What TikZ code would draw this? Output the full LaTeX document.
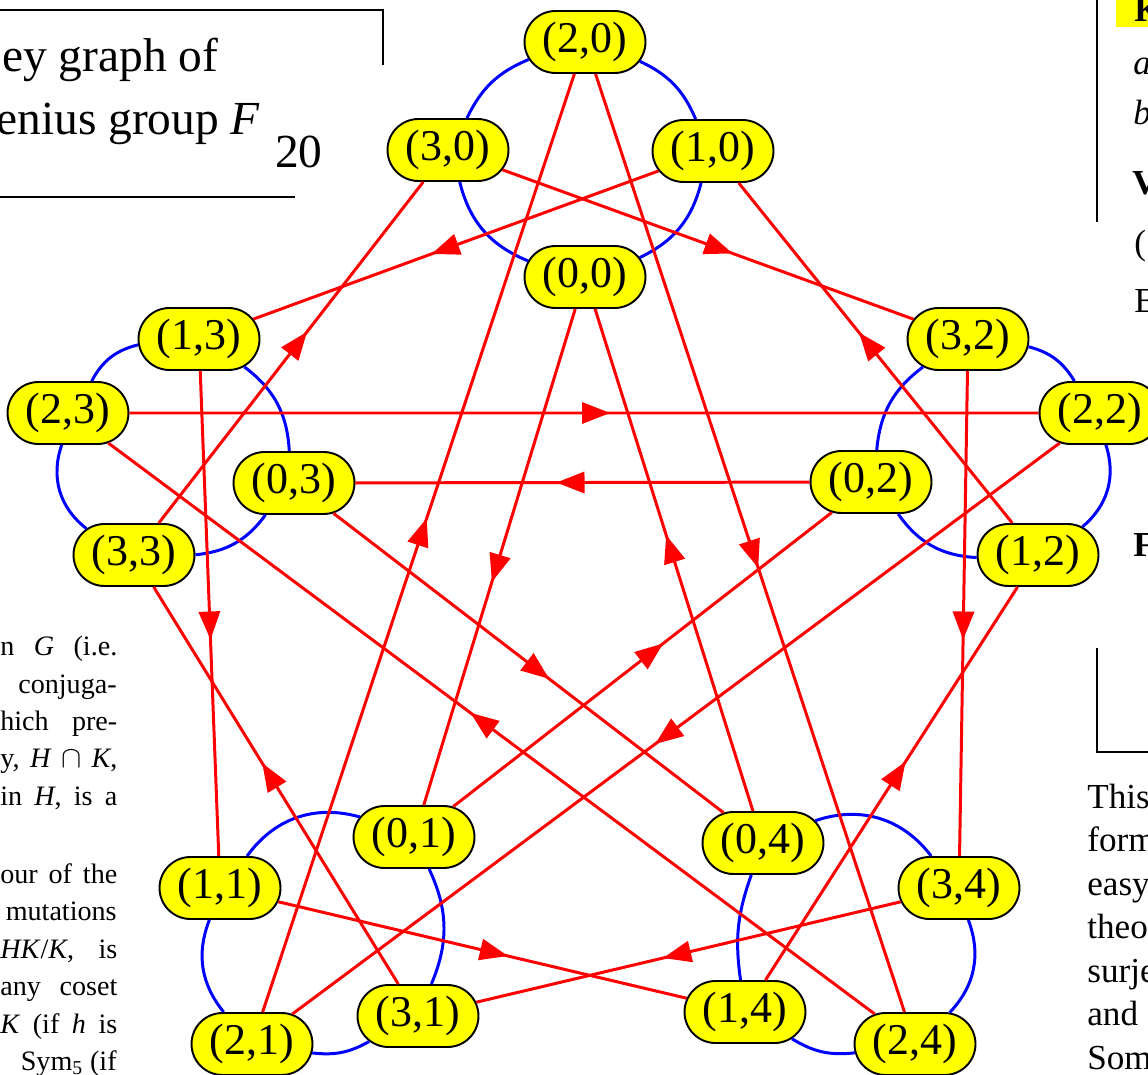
\documentclass[tikz,border=0pt]{standalone}
\usepackage{fontspec}
\setmainfont{Liberation Serif}
\usetikzlibrary{shapes.misc,decorations.markings}
\definecolor{vyellow}{RGB}{255,255,0}
\definecolor{cblue}{RGB}{0,0,255}
\definecolor{bred}{RGB}{255,0,0}
\newcommand{\jline}[1]{\makebox[2.34cm][s]{#1}}

\begin{document}
\begin{tikzpicture}[x=0.02cm,y=-0.02cm]
  \tikzstyle{vtx}=[rounded rectangle,draw=black,line width=1.1pt,fill=vyellow,minimum width=2.42cm,minimum height=1.24cm,inner sep=0pt,font=\fontsize{25}{25}\selectfont]
  \tikzstyle{acyc}=[draw=cblue,line width=1.7pt]
  \tikzstyle{bgen}=[draw=bred,line width=1.7pt,postaction={decorate},decoration={markings,mark=at position 0.5 with {\fill[bred] (-2,-11) -- (26,0) -- (-2,11) -- cycle;}}]
  \tikzstyle{pagel}=[inner sep=0pt,anchor=base west,font=\fontsize{16}{16}\selectfont]
  \tikzstyle{pager}=[inner sep=0pt,anchor=base west,font=\fontsize{20}{20}\selectfont]
  \tikzstyle{frame}=[draw=black,line width=1.1pt]
  \useasboundingbox (0,0) rectangle (1148,1074);
  \clip (0,0) rectangle (1148,1074);

  % page around the figure
  \node[inner sep=0pt,anchor=base west,font=\fontsize{27}{27}\selectfont] (ttl1) at (2,72) {ey graph of};
  \node[inner sep=0pt,anchor=base west,font=\fontsize{27}{27}\selectfont] (ttl2) at (-4,135) {enius group \textit{F}\hspace{0.3cm}\raisebox{-0.66cm}{\fontsize{27}{27}\selectfont 20}};
  \draw[frame] (0,10) -- (383,10) -- (383,65);
  \draw[frame] (0,197) -- (295,197);

  \node[pagel] (l1) at (0,655) {\jline{n \textit{G} (i.e.}};
  \node[pagel,anchor=base east] (l2) at (117,693) {conjuga-};
  \node[pagel] (l3) at (0,730) {\jline{hich pre-}};
  \node[pagel] (l4) at (0,767) {\jline{y, \textit{H} $\cap$ \textit{K},}};
  \node[pagel] (l5) at (0,805) {\jline{in \textit{H}, is a}};
  \node[pagel] (l6) at (0,883) {\jline{our of the}};
  \node[pagel,anchor=base east] (l7) at (117,920) {mutations};
  \node[pagel] (l8) at (0,958) {\jline{\textit{HK}/\textit{K}, is}};
  \node[pagel] (l9) at (0,995) {\jline{any coset}};
  \node[pagel] (l10) at (0,1033) {\jline{\textit{K} (if \textit{h} is}};
  \node[pagel,anchor=base east] (l11) at (117,1070) {Sym\textsubscript{5} (if};

  \fill[vyellow] (1116,0) rectangle (1148,27);
  \draw[frame] (1097,0) -- (1097,222);
  \node[pager] (r0) at (1134,22) {\textbf{K}};
  \node[pager] (r1) at (1133,75) {\textit{a}};
  \node[pager] (r2) at (1133,125) {\textit{b}};
  \node[pager] (r3) at (1132,195) {\textbf{V}};
  \node[pager] (r4) at (1134,255) {(};
  \node[pager] (r5) at (1134,312) {E};
  \node[pager] (r6) at (1133,556) {\textbf{F}};
  \draw[frame] (1097,648) -- (1097,752) -- (1148,752);
  \node[pager] (t1) at (1087,808) {This};
  \node[pager] (t2) at (1087,851) {form};
  \node[pager] (t3) at (1087,895) {easy};
  \node[pager] (t4) at (1087,938) {theo};
  \node[pager] (t5) at (1087,982) {surje};
  \node[pager] (t6) at (1087,1025) {and};
  \node[pager] (t7) at (1087,1069) {Som};

  % vertices (a,b)
  \node[vtx] (n20) at (585,42) {(2,0)};
  \node[vtx] (n30) at (448,150) {(3,0)};
  \node[vtx] (n10) at (713,151) {(1,0)};
  \node[vtx] (n00) at (585,277) {(0,0)};
  \node[vtx] (n13) at (199,339) {(1,3)};
  \node[vtx] (n23) at (68,413) {(2,3)};
  \node[vtx] (n03) at (294,483) {(0,3)};
  \node[vtx] (n33) at (134,555) {(3,3)};
  \node[vtx] (n32) at (968,339) {(3,2)};
  \node[vtx] (n22) at (1100,413) {(2,2)};
  \node[vtx] (n02) at (871,482) {(0,2)};
  \node[vtx] (n12) at (1038,555) {(1,2)};
  \node[vtx] (n01) at (414,837) {(0,1)};
  \node[vtx] (n11) at (220,888) {(1,1)};
  \node[vtx] (n31) at (418,1016) {(3,1)};
  \node[vtx] (n21) at (252,1044) {(2,1)};
  \node[vtx] (n04) at (763,843) {(0,4)};
  \node[vtx] (n34) at (959,888) {(3,4)};
  \node[vtx] (n14) at (745,1012) {(1,4)};
  \node[vtx] (n24) at (915,1044) {(2,4)};

  % blue cycles
  \draw[acyc] (n20) to[bend left=21] (n10);
  \draw[acyc] (n10) to[bend left=25] (n00);
  \draw[acyc] (n00) to[bend left=27] (n30);
  \draw[acyc] (n30) to[bend left=21] (n20);
  \draw[acyc] (n13) to[bend left=25] (n03);
  \draw[acyc] (n03) to[bend left=24] (n33);
  \draw[acyc] (n33) to[bend left=36] (n23);
  \draw[acyc] (n23) to[bend left=24] (n13);
  \draw[acyc] (n32) to[bend left=22] (n22);
  \draw[acyc] (n22) to[bend left=34] (n12);
  \draw[acyc] (n12) to[bend left=26] (n02);
  \draw[acyc] (n02) to[bend left=24] (n32);
  \draw[acyc] (n01) to[bend left=24] (n31);
  \draw[acyc] (n31) to[bend left=18] (n21);
  \draw[acyc] (n21) to[bend left=30] (n11);
  \draw[acyc] (n11) to[bend left=35] (n01);
  \draw[acyc] (n04) to[bend left=36] (n34);
  \draw[acyc] (n34) to[bend left=32] (n24);
  \draw[acyc] (n24) to[bend left=19] (n14);
  \draw[acyc] (n14) to[bend left=14] (n04);

  % red edges
  \draw[bgen] (n00) -- (n01);
  \draw[bgen] (n01) -- (n02);
  \draw[bgen] (n02) -- (n03);
  \draw[bgen] (n03) -- (n04);
  \draw[bgen] (n04) -- (n00);
  \draw[bgen] (n10) -- (n13);
  \draw[bgen] (n13) -- (n11);
  \draw[bgen] (n11) -- (n14);
  \draw[bgen] (n14) -- (n12);
  \draw[bgen] (n12) -- (n10);
  \draw[bgen] (n20) -- (n24);
  \draw[bgen] (n24) -- (n23);
  \draw[bgen] (n23) -- (n22);
  \draw[bgen] (n22) -- (n21);
  \draw[bgen] (n21) -- (n20);
  \draw[bgen] (n30) -- (n32);
  \draw[bgen] (n32) -- (n34);
  \draw[bgen] (n34) -- (n31);
  \draw[bgen] (n31) -- (n33);
  \draw[bgen] (n33) -- (n30);
\end{tikzpicture}
\end{document}
